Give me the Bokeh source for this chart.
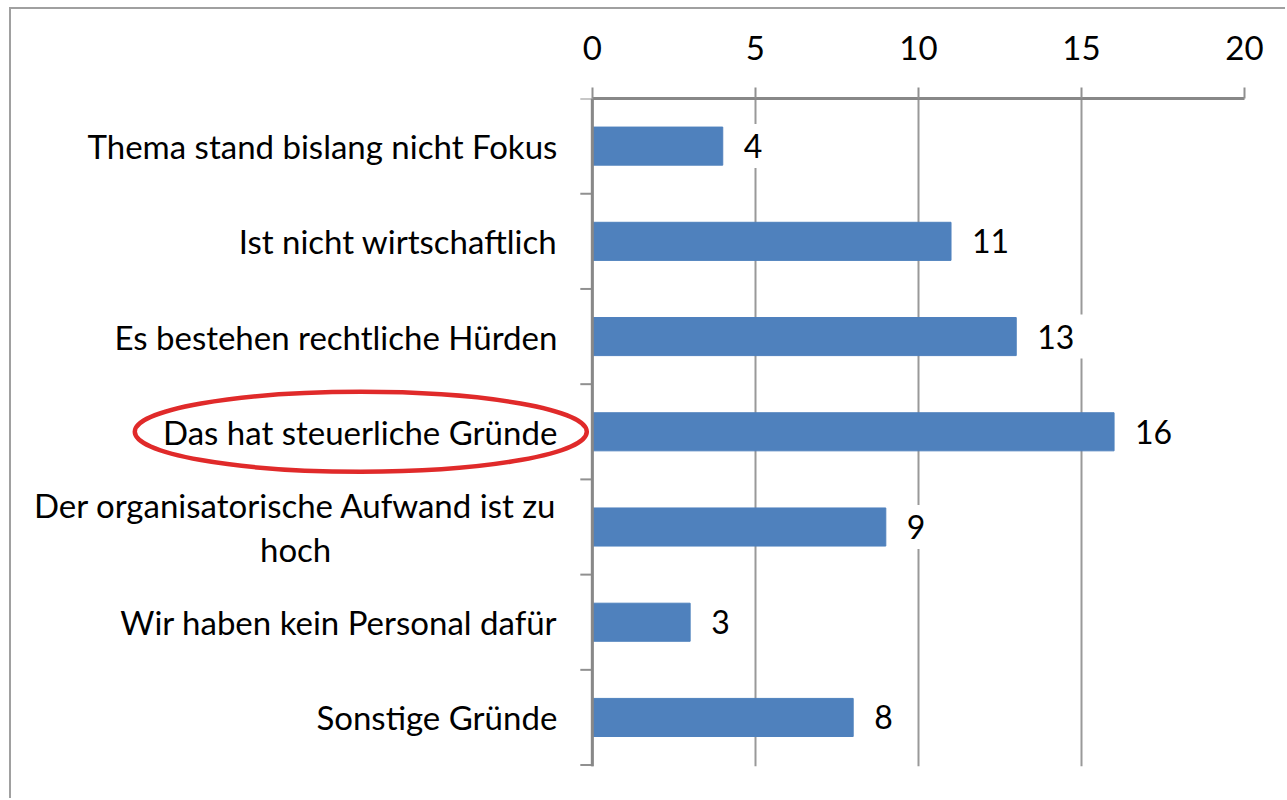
import numpy as np
from bokeh.plotting import figure
from bokeh.models import ColumnDataSource, FixedTicker, Range1d, Span
from bokeh.core.properties import value
from bokeh.embed import file_html
from bokeh.resources import INLINE

categories = [
    "Thema stand bislang nicht Fokus",
    "Ist nicht wirtschaftlich",
    "Es bestehen rechtliche Hürden",
    "Das hat steuerliche Gründe",
    "Der organisatorische Aufwand ist zu\nhoch",
    "Wir haben kein Personal dafür",
    "Sonstige Gründe",
]
values = [4, 11, 13, 16, 9, 3, 8]
x_ticks = [0, 5, 10, 15, 20]
highlight = "Das hat steuerliche Gründe"

FONT = "Lato"
n = len(categories)
ypos = [n - 1 - i + 0.5 for i in range(n)]
boundaries = list(range(n + 1))

src = ColumnDataSource(dict(cat=categories, val=values, y=ypos,
                            lab=[str(v) for v in values]))

p = figure(width=1276, height=791, x_range=Range1d(-17.75, 20), y_range=Range1d(-0.015, n),
           x_axis_location="above", output_backend="svg", toolbar_location=None,
           min_border_left=2, min_border_right=43, min_border_top=89, min_border_bottom=34)
p.styles = {"margin-left": "9px", "margin-top": "7px",
            "border-left": "2px solid #a0a0a0", "border-top": "2px solid #a0a0a0"}
p.outline_line_color = None
p.background_fill_color = "white"
p.border_fill_color = "white"
p.yaxis.visible = False

# x axis (top), limited to the data range
xa = p.xaxis[0]
xa.bounds = (0, 20)
xa.ticker = FixedTicker(ticks=x_ticks)
xa.major_tick_out = 11
xa.major_tick_in = 0
xa.minor_tick_out = 0
xa.minor_tick_in = 0
xa.axis_line_color = "#888888"
xa.axis_line_width = 3
xa.major_tick_line_color = "#909090"
xa.major_tick_line_width = 2
xa.major_label_text_font = FONT
xa.major_label_text_font_size = "33px"
xa.major_label_text_color = "black"
xa.major_label_standoff = 28

p.xgrid.ticker = FixedTicker(ticks=x_ticks)
p.xgrid.grid_line_color = "#999999"
p.xgrid.grid_line_width = 2
p.ygrid.visible = False

# bars
p.hbar(y="y", right="val", left=0, height=0.4, source=src,
       fill_color="#4F81BD", line_color="#4F81BD", line_width=1)

# category axis at x = 0: line, boundary ticks, labels
p.add_layout(Span(location=0, dimension="height", line_color="#888888", line_width=3))
p.ray(x=0, y=boundaries, length=12, length_units="screen", angle=np.pi,
      line_color="#909090", line_width=2)
p.text(x=0, y="y", text="cat", source=src, x_offset=-35,
       anchor="center_right", text_align="center", text_baseline="middle",
       text_font=value(FONT), text_font_size="33px", text_color="black",
       text_line_height=1.1)

# value labels with white boxes (they hide the grid lines behind them)
p.text(x="val", y="y", text="lab", source=src, x_offset=11,
       text_align="left", text_baseline="middle",
       text_font=value(FONT), text_font_size="32px", text_color="black",
       background_fill_color="white", padding=10)

# red ellipse around the highlighted label
hy = ypos[categories.index(highlight)]
p.ellipse(x=-7.10, y=hy, width=452, height=80, width_units="screen", height_units="screen",
          fill_color=None, line_color="#E02A2A", line_width=4.5)

open("out.html", "w").write(file_html(p, INLINE))
